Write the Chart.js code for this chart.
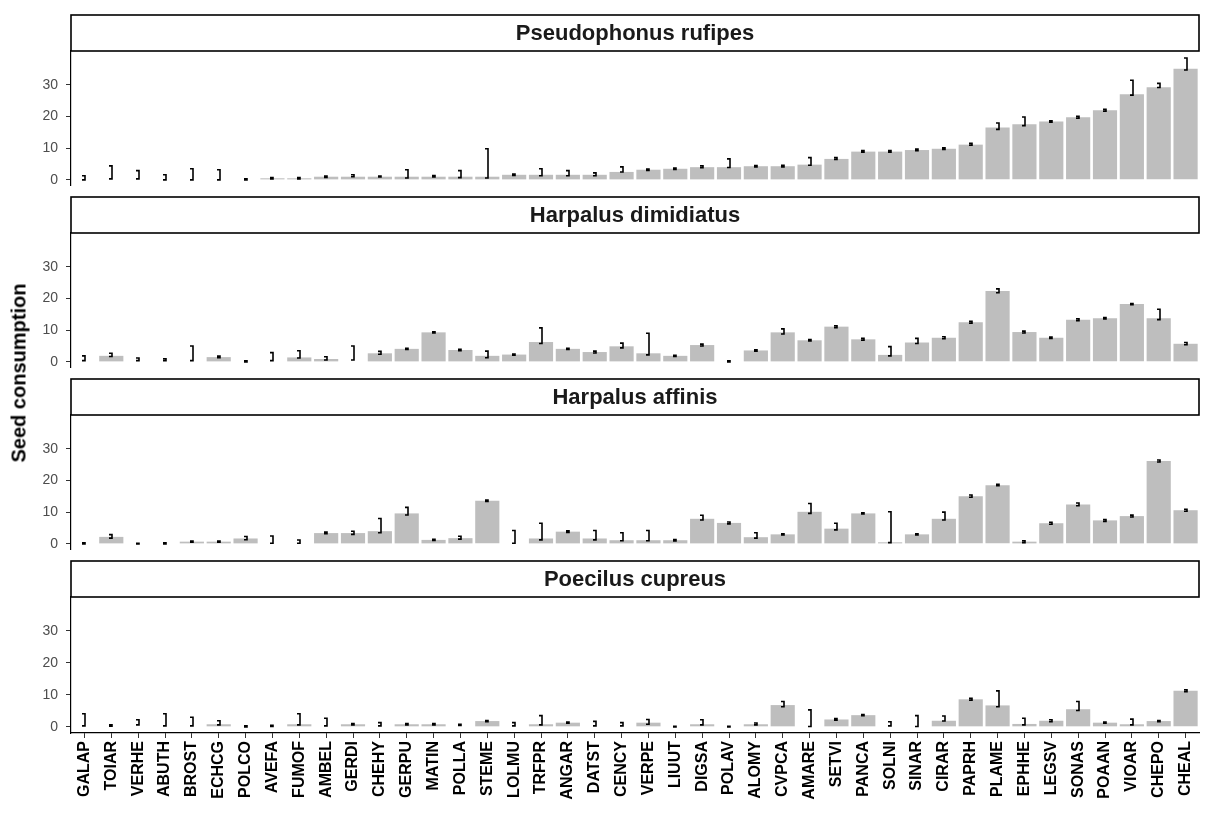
<!DOCTYPE html>
<html>
<head>
<meta charset="utf-8">
<script src="https://cdn.jsdelivr.net/npm/chart.js@4.4.1/dist/chart.umd.min.js"></script>
<style>
  html, body { margin: 0; padding: 0; background: #fff; }
  body { width: 1205px; height: 818px; position: relative; overflow: hidden; }
  .panel { position: absolute; left: 0; width: 1205px; }
  #ytitle {
    position: absolute; left: 19px; top: 373px;
    transform: translate(-50%, -50%) rotate(-90deg);
    font: bold 20px "Liberation Sans", Arial, sans-serif; color: #000; white-space: nowrap;
  }
</style>
</head>
<body>
<div class="panel" style="top:14px;height:172px"><canvas id="p1"></canvas></div>
<div class="panel" style="top:196px;height:172px"><canvas id="p2"></canvas></div>
<div class="panel" style="top:378px;height:172px"><canvas id="p3"></canvas></div>
<div class="panel" style="top:560px;height:258px"><canvas id="p4"></canvas></div>
<div id="ytitle">Seed consumption</div>
<script>
var species = ["GALAP", "TOIAR", "VERHE", "ABUTH", "BROST", "ECHCG", "POLCO", "AVEFA", "FUMOF", "AMBEL",
  "GERDI", "CHEHY", "GERPU", "MATIN", "POLLA", "STEME", "LOLMU", "TRFPR", "ANGAR", "DATST",
  "CENCY", "VERPE", "LIUUT", "DIGSA", "POLAV", "ALOMY", "CVPCA", "AMARE", "SETVI", "PANCA",
  "SOLNI", "SINAR", "CIRAR", "PAPRH", "PLAME", "EPHHE", "LEGSV", "SONAS", "POAAN", "VIOAR",
  "CHEPO", "CHEAL"];
var yTicks = [0, 10, 20, 30];

var rufipesMean = [0, 0, 0, 0, 0, 0, 0, 0.5, 0.5, 1.0, 1.0, 1.0, 1.0, 1.0, 1.0, 1.0, 1.6, 1.6, 1.6, 1.6,
  2.5, 3.2, 3.5, 4.0, 4.0, 4.3, 4.3, 4.8, 6.6, 8.9, 8.9, 9.4, 9.8, 11.1, 16.5, 17.5, 18.4, 19.7, 21.9, 27.0,
  29.2, 35.0];
var rufipesLow = [0, 0.3, 0.3, 0, 0, 0, 0, 0.3, 0.3, 0.8, 1.0, 0.9, 0.6, 0.9, 0.7, 0.6, 1.4, 1.3, 1.3, 1.3,
  2.5, 3.0, 3.3, 3.8, 3.9, 4.1, 4.1, 4.6, 6.4, 8.7, 8.7, 9.2, 9.6, 10.9, 15.9, 17.1, 18.2, 19.4, 21.6, 26.7,
  29.1, 34.6];
var rufipesHigh = [1.3, 4.4, 2.9, 1.6, 3.5, 3.2, 0.3, 0.7, 0.7, 1.2, 1.6, 1.2, 3.2, 1.4, 2.9, 9.8, 1.8, 3.5, 2.9, 2.2,
  4.1, 3.4, 3.7, 4.4, 6.6, 4.5, 4.6, 7.0, 7.0, 9.2, 9.2, 9.7, 10.1, 11.5, 17.9, 19.8, 18.6, 20.0, 22.2, 31.4,
  30.4, 38.4];

var dimidiatusMean = [0, 1.9, 0, 0, 0, 1.5, 0, 0, 1.4, 0.9, 0, 2.7, 4.1, 9.3, 3.75, 1.9, 2.3, 6.25, 4.1, 3.1,
  4.9, 2.7, 1.9, 5.3, 0, 3.6, 9.3, 6.8, 11.1, 7.1, 2.2, 6.1, 7.6, 12.5, 22.3, 9.4, 7.6, 13.3, 13.75, 18.2,
  13.75, 5.7];
var dimidiatusLow = [0.4, 1.7, 0.4, 0.4, 0.4, 1.3, 0, 0.4, 1.2, 0.6, 0.6, 2.4, 3.9, 9.1, 3.5, 1.3, 2.1, 5.8, 3.9, 2.8,
  4.4, 2.2, 1.7, 5.0, 0, 3.4, 8.8, 6.6, 10.8, 6.8, 1.9, 5.8, 7.3, 12.2, 21.8, 9.1, 7.4, 13.0, 13.55, 18.0,
  13.3, 5.4];
var dimidiatusHigh = [1.9, 2.7, 1.2, 1.0, 5.0, 1.8, 0.3, 2.9, 3.5, 1.6, 5.0, 3.3, 4.3, 9.5, 4.0, 3.4, 2.5, 10.7, 4.3, 3.4,
  5.9, 9.0, 2.1, 5.6, 0.3, 3.8, 10.4, 7.0, 11.4, 7.4, 4.8, 7.4, 7.9, 12.8, 23.0, 9.7, 7.8, 13.6, 13.95, 18.4,
  16.6, 6.1];

var affinisMean = [0, 2.2, 0, 0, 0.7, 0.7, 1.7, 0, 0, 3.4, 3.4, 4.0, 9.6, 1.25, 1.8, 13.6, 0, 1.7, 3.85, 1.7,
  1.15, 1.15, 1.15, 7.9, 6.6, 2.1, 3.0, 10.1, 4.8, 9.6, 0.5, 3.0, 7.9, 15.0, 18.5, 0.7, 6.5, 12.4, 7.4, 8.75,
  26.1, 10.6];
var affinisLow = [0, 1.8, 0, 0, 0.5, 0.5, 1.3, 0.2, 0.2, 3.2, 3.0, 3.5, 9.1, 1.05, 1.5, 13.4, 0.2, 1.25, 3.6, 1.25,
  1.0, 1.0, 0.9, 7.5, 6.3, 1.8, 2.8, 9.6, 4.4, 9.4, 0.4, 2.8, 7.5, 14.7, 18.3, 0.4, 6.2, 12.0, 7.1, 8.45,
  25.8, 10.3];
var affinisHigh = [0.3, 2.9, 0.2, 0.3, 0.9, 0.9, 2.3, 2.5, 1.2, 3.7, 4.0, 8.0, 11.5, 1.45, 2.4, 13.8, 4.2, 6.5, 4.1, 4.2,
  3.5, 4.2, 1.4, 9.0, 6.9, 3.5, 3.2, 12.7, 6.5, 9.8, 10.1, 3.2, 10.0, 15.4, 18.8, 1.0, 6.8, 12.9, 7.7, 9.05,
  26.4, 10.9];

var cupreusMean = [0, 0, 0, 0, 0, 0.8, 0, 0, 0.8, 0, 0.8, 0, 0.8, 0.8, 0, 1.8, 0, 0.8, 1.3, 0,
  0, 1.3, 0, 0.8, 0, 0.8, 6.8, 0, 2.3, 3.65, 0, 0, 1.9, 8.6, 6.7, 0.9, 1.9, 5.5, 1.3, 0.8,
  1.8, 11.25];
var cupreusLow = [0.3, 0.2, 0.6, 0.3, 0.3, 0.6, 0, 0.1, 0.6, 0.3, 0.6, 0.3, 0.6, 0.6, 0.4, 1.6, 0.3, 0.6, 1.1, 0.3,
  0.3, 0.8, 0, 0.6, 0, 0.6, 6.3, 0.1, 2.1, 3.45, 0.3, 0.1, 1.8, 8.3, 6.3, 0.6, 1.6, 5.1, 1.1, 0.6,
  1.6, 10.95];
var cupreusHigh = [4.1, 0.6, 2.2, 4.1, 3.0, 1.9, 0.3, 0.5, 4.1, 2.7, 1.0, 1.3, 1.0, 1.0, 0.8, 2.0, 1.3, 3.5, 1.5, 1.7,
  1.3, 2.3, 0.2, 2.2, 0.2, 1.2, 7.9, 5.3, 2.6, 3.85, 1.6, 3.5, 3.4, 8.9, 11.25, 2.7, 2.2, 7.9, 1.5, 2.4,
  2.0, 11.55];

var fontFamily = "'Liberation Sans', Arial, sans-serif";
var barGrey = "#bebebe";
var stripHeight = 37;

var stripPlugin = {
  id: "strip",
  afterDraw: function (chart) {
    var ctx = chart.ctx;
    var area = chart.chartArea;
    ctx.save();
    ctx.fillStyle = "#fff";
    ctx.fillRect(area.left, 1, area.right - area.left, stripHeight - 1);
    ctx.strokeStyle = "#000";
    ctx.lineWidth = 1.6;
    ctx.strokeRect(area.left, 1, area.right - area.left, stripHeight - 1);
    ctx.fillStyle = "#1a1a1a";
    ctx.font = "bold 22px " + fontFamily;
    ctx.textAlign = "center";
    ctx.textBaseline = "middle";
    ctx.fillText(chart.options.plugins.strip.title, (area.left + area.right) / 2, stripHeight / 2 + 1);
    ctx.restore();
  }
};

var errorBarPlugin = {
  id: "errbars",
  afterDatasetsDraw: function (chart) {
    var opts = chart.options.plugins.errbars;
    var meta = chart.getDatasetMeta(0);
    var y = chart.scales.y;
    var ctx = chart.ctx;
    ctx.save();
    ctx.strokeStyle = "#000";
    ctx.lineWidth = 1.6;
    meta.data.forEach(function (bar, i) {
      var x = Math.round(bar.x) + 1;
      var yLo = y.getPixelForValue(opts.low[i]);
      var yHi = y.getPixelForValue(opts.high[i]);
      ctx.beginPath();
      ctx.moveTo(x - 3, yHi);
      ctx.lineTo(x, yHi);
      ctx.lineTo(x, yLo);
      ctx.lineTo(x - 3, yLo);
      ctx.stroke();
    });
    ctx.restore();
  }
};

function makePanel(canvasId, title, means, low, high, showX) {
  new Chart(document.getElementById(canvasId), {
    type: "bar",
    data: {
      labels: species,
      datasets: [{
        data: means,
        backgroundColor: barGrey,
        borderWidth: 0,
        barPercentage: 0.9,
        categoryPercentage: 1.0
      }]
    },
    plugins: [stripPlugin, errorBarPlugin],
    options: {
      responsive: true,
      maintainAspectRatio: false,
      animation: false,
      layout: { padding: { top: stripHeight, right: 6, left: 0, bottom: 0 } },
      plugins: {
        legend: { display: false },
        tooltip: { enabled: false },
        strip: { title: title },
        errbars: { low: low, high: high }
      },
      scales: {
        x: {
          display: showX,
          offset: true,
          grid: { display: true, offset: false, drawOnChartArea: false, drawTicks: true, tickLength: 5, color: "#333" },
          border: { display: true, color: "#000", width: 1.2 },
          ticks: {
            autoSkip: false,
            minRotation: 90,
            maxRotation: 90,
            padding: 3,
            color: "#000",
            font: { family: fontFamily, size: 16, weight: "bold" }
          },
          afterFit: function (scale) {
            scale.paddingLeft = 0;
            scale.paddingRight = 0;
            if (showX) scale.height = 85;
          }
        },
        y: {
          min: -1.93,
          max: 40.6,
          afterBuildTicks: function (scale) {
            scale.ticks = yTicks.map(function (v) { return { value: v }; });
          },
          grid: { display: true, drawOnChartArea: false, drawTicks: true, tickLength: 5, color: "#333" },
          border: { display: true, color: "#000", width: 1.2 },
          ticks: {
            padding: 8,
            color: "#4d4d4d",
            font: { family: fontFamily, size: 14 }
          },
          afterFit: function (scale) {
            scale.width = 71;
            scale.paddingTop = 0;
            scale.paddingBottom = 0;
          }
        }
      }
    }
  });
}

makePanel("p1", "Pseudophonus rufipes", rufipesMean, rufipesLow, rufipesHigh, false);
makePanel("p2", "Harpalus dimidiatus", dimidiatusMean, dimidiatusLow, dimidiatusHigh, false);
makePanel("p3", "Harpalus affinis", affinisMean, affinisLow, affinisHigh, false);
makePanel("p4", "Poecilus cupreus", cupreusMean, cupreusLow, cupreusHigh, true);
</script>
</body>
</html>
